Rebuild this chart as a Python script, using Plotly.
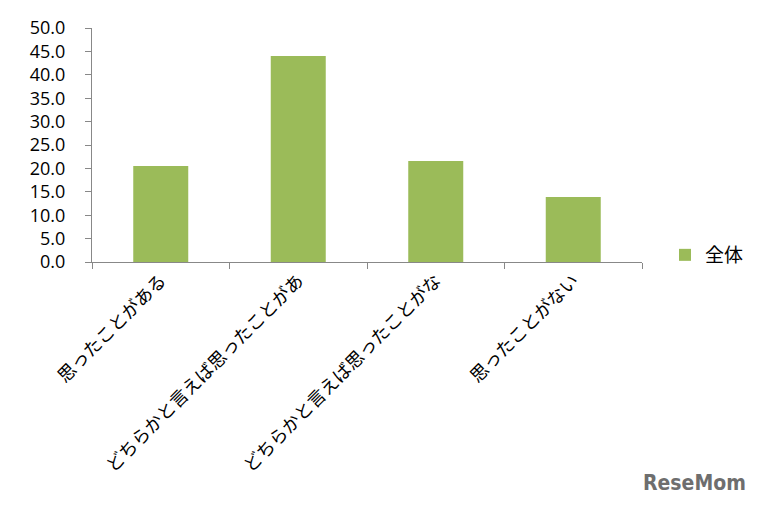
import plotly.graph_objects as go

categories = ["思ったことがある", "どちらかと言えば思ったことがあ", "どちらかと言えば思ったことがな", "思ったことがない"]
values = [20.5, 44.0, 21.6, 13.9]
series_name = "全体"
y_ticks = [0, 5, 10, 15, 20, 25, 30, 35, 40, 45, 50]

font_family = "Noto Sans CJK JP, Noto Sans, sans-serif"

W, H = 752, 499
L, R, T, B = 84, 118, 20, 245
pw, ph = W - L - R, H - T - B

fig = go.Figure()
fig.add_trace(go.Bar(
    x=categories, y=values, name=series_name,
    marker=dict(color="#9BBB59", line=dict(width=0)),
    width=0.4,
))

fig.update_layout(
    width=W, height=H,
    margin=dict(l=L, r=R, t=T, b=B, autoexpand=False),
    paper_bgcolor="white", plot_bgcolor="white",
    font=dict(family=font_family, size=18, color="black"),
    showlegend=True,
    legend=dict(x=(657 - L) / pw, y=(254 - 247) / ph, xanchor="left", yanchor="middle",
                font=dict(size=19), bgcolor="rgba(0,0,0,0)", itemwidth=30,
                tracegroupgap=0),
    xaxis=dict(
        type="category", showline=True, linecolor="#888888", linewidth=1,
        ticks="outside", tickson="boundaries", ticklen=6, tickcolor="#888888",
        tickangle=-45, showgrid=False, tickfont=dict(size=18), automargin=False,
    ),
    yaxis=dict(
        range=[0, 50], tickvals=y_ticks, tickformat=".1f",
        showline=True, linecolor="#888888", linewidth=1,
        ticks="outside", ticklen=6, tickcolor="#888888",
        showgrid=False, zeroline=False,
        tickfont=dict(size=18, family="Open Sans, Noto Sans, sans-serif"),
        ticklabelstandoff=16, automargin=False,
    ),
    bargap=0.6,
)

fig.add_annotation(
    text="<b>ReseMom</b>", xref="paper", yref="paper",
    x=(740 - L) / pw, y=(254 - 475) / ph,
    showarrow=False, xanchor="right", yanchor="middle",
    font=dict(size=21, color="#6e6e6e", family="DejaVu Sans Condensed, Liberation Sans Narrow, sans-serif"),
)

fig.write_html("out.html")
